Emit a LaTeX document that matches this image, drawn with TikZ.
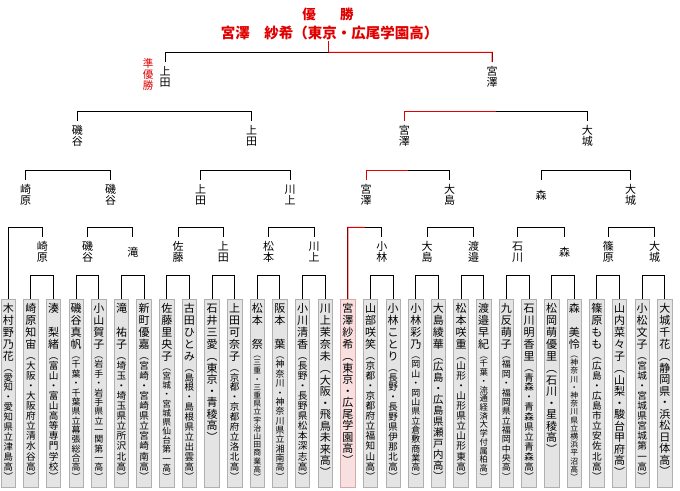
\documentclass[tikz,border=0pt]{standalone}
\usepackage{fontspec}
\setmainfont{Noto Sans CJK JP}
\usetikzlibrary{calc}
\definecolor{win}{HTML}{E00000}
\definecolor{boxfill}{HTML}{E4E4E4}
\definecolor{boxline}{HTML}{B0B0B0}
\definecolor{redfill}{HTML}{F8E0E0}
\definecolor{redline}{HTML}{D8A8A8}

\ExplSyntaxOn
\box_new:N \l__rs_name_box
\box_new:N \l__rs_school_box
\dim_new:N \l__rs_avail_dim
\cs_new_protected:Npn \rs_chars:nn #1 #2
  {
    \vbox:n
      {
        \offinterlineskip
        \tl_map_inline:nn {#2}
          {
            \hbox_to_wd:nn {#1}
              { \hss \vrule height \dim_eval:n {#1*88/100} depth \dim_eval:n {#1*12/100} width 0pt ##1 \hss }
          }
      }
  }
\NewDocumentCommand \vlab { O{11pt} m } { \rs_chars:nn {#1} {#2} }
\NewDocumentCommand \entry { m m }
  {
    \hbox_set:Nn \l__rs_name_box { \fontsize{11pt}{12pt}\selectfont \rs_chars:nn {12pt} {#1} }
    \hbox_set:Nn \l__rs_school_box { \fontsize{11pt}{12pt}\selectfont \rs_chars:nn {11.5pt} {#2} }
    \dim_set:Nn \l__rs_avail_dim { 179pt - \box_ht_plus_dp:N \l__rs_name_box }
    \dim_compare:nNnT { \box_ht_plus_dp:N \l__rs_school_box } > { \l__rs_avail_dim }
      { \box_resize_to_ht_plus_dp:Nn \l__rs_school_box { \l__rs_avail_dim } }
    \vbox_to_ht:nn {182pt}
      {
        \offinterlineskip
        \hbox_to_wd:nn {14.5pt} { \hss \box_use:N \l__rs_name_box \hss }
        \hbox_to_wd:nn {14.5pt} { \hss \box_use:N \l__rs_school_box \hss }
        \vss
      }
  }
\ExplSyntaxOff

\newcommand\pl[4]{\node[#1] (b#2) at ({8.3+22.64*(#2-1)},299) {\entry{#3}{#4}};}
\newcommand\brk[3]{\draw[br] (#1.north) -- (#1.north |- #3) -- (#2.north |- #3) -- (#2.north);}
\newcommand\rbrk[3]{\draw[wn] (#1.north) -- (#1.north |- #3) -- ($(#1.north |- #3)!0.5!(#2.north |- #3)$);}

\begin{document}
\begin{tikzpicture}[x=1pt,y=-1pt,
  pbox/.style={draw=boxline, fill=boxfill, line width=0.8pt, inner xsep=0pt, inner ysep=3pt, anchor=north, minimum width=14.5pt},
  pboxw/.style={pbox, draw=redline, fill=redfill},
  lab/.style={inner sep=0pt, minimum height=30pt, anchor=north, font=\fontsize{11pt}{12pt}\selectfont},
  br/.style={line width=1pt, black},
  wn/.style={line width=1pt, win},
  ttl/.style={inner sep=0pt, text=win, font=\bfseries}
]
\useasboundingbox (0,0) rectangle (680,490);

% ---- players
\pl{pbox}{1}{木村野乃花}{︵愛知・愛知県立津島高︶}
\pl{pbox}{2}{崎原知宙}{︵大阪・大阪府立清水谷高︶}
\pl{pbox}{3}{湊　梨緒}{︵富山・富山高等専門学校︶}
\pl{pbox}{4}{磯谷真帆}{︵千葉・千葉県立幕張総合高︶}
\pl{pbox}{5}{小山賀子}{︵岩手・岩手県立一関第一高︶}
\pl{pbox}{6}{滝　祐子}{︵埼玉・埼玉県立所沢北高︶}
\pl{pbox}{7}{新町優嘉}{︵宮崎・宮崎県立宮崎南高︶}
\pl{pbox}{8}{佐藤里央子}{︵宮城・宮城県仙台第一高︶}
\pl{pbox}{9}{古田ひとみ}{︵島根・島根県立出雲高︶}
\pl{pbox}{10}{石井三愛}{︵東京・青稜高︶}
\pl{pbox}{11}{上田可奈子}{︵京都・京都府立洛北高︶}
\pl{pbox}{12}{松本　祭}{︵三重・三重県立宇治山田商業高︶}
\pl{pbox}{13}{阪本　葉}{︵神奈川・神奈川県立湘南高︶}
\pl{pbox}{14}{小川清香}{︵長野・長野県松本深志高︶}
\pl{pbox}{15}{川上茉奈未}{︵大阪・飛鳥未来高︶}
\pl{pboxw}{16}{宮澤紗希}{︵東京・広尾学園高︶}
\pl{pbox}{17}{山部咲笑}{︵京都・京都府立福知山高︶}
\pl{pbox}{18}{小林ことり}{︵長野・長野県伊那北高︶}
\pl{pbox}{19}{小林彩乃}{︵岡山・岡山県立倉敷商業高︶}
\pl{pbox}{20}{大島綾華}{︵広島・広島県瀬戸内高︶}
\pl{pbox}{21}{松本咲重}{︵山形・山形県立山形東高︶}
\pl{pbox}{22}{渡邉早紀}{︵千葉・流通経済大学付属柏高︶}
\pl{pbox}{23}{九反萌子}{︵福岡・福岡県立福岡中央高︶}
\pl{pbox}{24}{石川明香里}{︵青森・青森県立青森高︶}
\pl{pbox}{25}{松岡萌優里}{︵石川・星稜高︶}
\pl{pbox}{26}{森　美怜}{︵神奈川・神奈川県立横浜平沼高︶}
\pl{pbox}{27}{篠原もも}{︵広島・広島市立安佐北高︶}
\pl{pbox}{28}{山内菜々子}{︵山梨・駿台甲府高︶}
\pl{pbox}{29}{小松文子}{︵宮城・宮城県宮城第一高︶}
\pl{pbox}{30}{大城千花}{︵静岡県・浜松日体高︶}

% ---- level coordinates
\coordinate (Y1) at (0,275);
\coordinate (Y2) at (0,227.3);
\coordinate (Y3) at (0,170);
\coordinate (Y4) at (0,111.5);
\coordinate (Y5) at (0,52.3);

% ---- round 2 labels
\node[lab] (l2a) at (42.3,237) {\vlab{崎原}};
\node[lab] (l2b) at (87.5,237) {\vlab{磯谷}};
\node[lab] (l2c) at (132.8,237) {\vlab{滝}};
\node[lab] (l2d) at (178.1,237) {\vlab{佐藤}};
\node[lab] (l2e) at (223.4,237) {\vlab{上田}};
\node[lab] (l2f) at (268.7,237) {\vlab{松本}};
\node[lab] (l2g) at (314,237) {\vlab{川上}};
\node[lab] (l2h) at (381.9,237) {\vlab{小林}};
\node[lab] (l2i) at (427.2,237) {\vlab{大島}};
\node[lab] (l2j) at (473.5,237) {\vlab{渡邉}};
\node[lab] (l2k) at (517.7,237) {\vlab{石川}};
\node[lab] (l2l) at (564.5,237) {\vlab{森}};
\node[lab] (l2m) at (608.3,237) {\vlab{篠原}};
\node[lab] (l2n) at (654.5,237) {\vlab{大城}};

% ---- round 3 labels
\node[lab] (l3a) at (25.5,180) {\vlab{崎原}};
\node[lab] (l3b) at (110.5,180) {\vlab{磯谷}};
\node[lab] (l3c) at (200.5,180) {\vlab{上田}};
\node[lab] (l3d) at (290,180) {\vlab{川上}};
\node[lab] (l3e) at (366,180) {\vlab{宮澤}};
\node[lab] (l3f) at (449.5,180) {\vlab{大島}};
\node[lab] (l3g) at (541,180) {\vlab{森}};
\node[lab] (l3h) at (630.5,180) {\vlab{大城}};

% ---- round 4 labels
\node[lab] (l4a) at (77.3,120.5) {\vlab{磯谷}};
\node[lab] (l4b) at (251.7,120.5) {\vlab{上田}};
\node[lab] (l4c) at (404.3,120.5) {\vlab{宮澤}};
\node[lab] (l4d) at (587.3,120.5) {\vlab{大城}};

% ---- final labels
\node[lab] (l5a) at (165,62) {\vlab{上田}};
\node[lab] (l5b) at (492,62) {\vlab{宮澤}};
\node[lab, text=win, minimum height=0pt, anchor=center, font=\fontsize{10.5pt}{11pt}\selectfont] (jun) at (148,74) {\vlab{準優勝}};

% ---- title
\node[ttl, font=\fontsize{13.5pt}{15pt}\selectfont\bfseries] (yusho) at (328,14.5) {優\hspace{24.5pt}勝};
\node[ttl, font=\fontsize{14.5pt}{16pt}\selectfont\bfseries] (champ) at (329.5,33.3) {宮澤　紗希（東京・広尾学園高）};

% ---- round 1 brackets
\foreach \i in {2,4,...,14,17,19,...,29}{
  \pgfmathtruncatemacro\j{\i+1}
  \brk{b\i}{b\j}{Y1}
}
% ---- round 2 brackets
\brk{b1}{l2a}{Y2}
\brk{l2b}{l2c}{Y2}
\brk{l2d}{l2e}{Y2}
\brk{l2f}{l2g}{Y2}
\brk{b16}{l2h}{Y2}
\rbrk{b16}{l2h}{Y2}
\brk{l2i}{l2j}{Y2}
\brk{l2k}{l2l}{Y2}
\brk{l2m}{l2n}{Y2}
% ---- round 3 brackets
\brk{l3a}{l3b}{Y3}
\brk{l3c}{l3d}{Y3}
\brk{l3e}{l3f}{Y3}
\rbrk{l3e}{l3f}{Y3}
\brk{l3g}{l3h}{Y3}
% ---- round 4 brackets
\brk{l4a}{l4b}{Y4}
\brk{l4c}{l4d}{Y4}
\rbrk{l4c}{l4d}{Y4}
% ---- final
\brk{l5a}{l5b}{Y5}
\rbrk{l5b}{l5a}{Y5}
\coordinate (top) at ($(l5a.north |- Y5)!0.5!(l5b.north |- Y5)$);
\draw[wn] (top) -- (top |- champ.south);
\end{tikzpicture}
\end{document}
